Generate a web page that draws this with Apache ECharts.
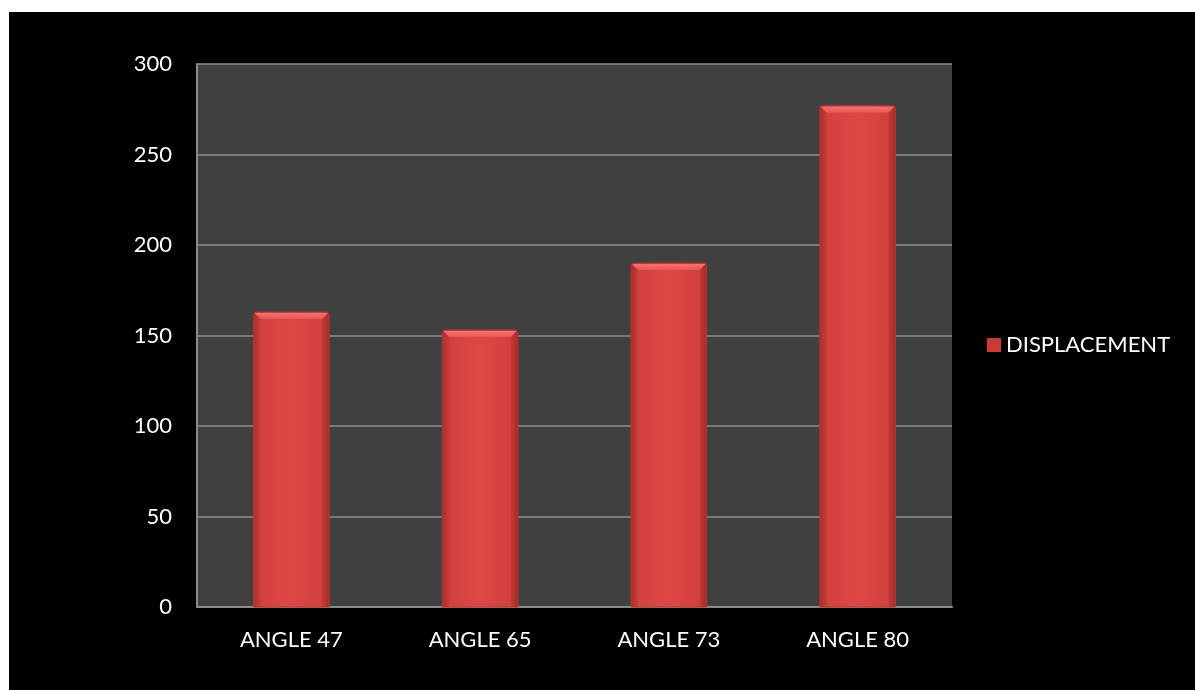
<!DOCTYPE html>
<html>
<head>
<meta charset="utf-8">
<script src="https://cdn.jsdelivr.net/npm/echarts@6/dist/echarts.min.js"></script>
<style>
  html, body { margin: 0; padding: 0; background: #ffffff; }
  #frame { position: absolute; left: 9px; top: 12px; right: 0; bottom: 0; background: #000000; }
  #chart { position: absolute; left: 0; top: 0; width: 1195px; height: 690px; }
</style>
</head>
<body>
<div id="frame"></div>
<div id="chart"></div>
<script>
// Displacement measured at each launch angle
const categories = ['ANGLE 47', 'ANGLE 65', 'ANGLE 73', 'ANGLE 80'];
const displacement = [163, 153, 190, 277];
const seriesName = 'DISPLACEMENT';

const FONT = 'Lato, "Open Sans", sans-serif';
const BAR_RATIO = 0.4;
const BEVEL = 7;

function sideGradient() {
  return new echarts.graphic.LinearGradient(0, 0, 1, 0, [
    { offset: 0.00, color: '#ad322e' },
    { offset: 0.10, color: '#d3423e' },
    { offset: 0.50, color: '#de4744' },
    { offset: 0.90, color: '#d2413d' },
    { offset: 1.00, color: '#a82d2a' }
  ]);
}

// Bevelled bar: body plus a lighter top facet, positioned through the axes
function renderBar(params, api) {
  const idx = api.value(0);
  const top = api.coord([idx, api.value(1)]);
  const base = api.coord([idx, 0]);
  const w = api.size([1, 0])[0] * BAR_RATIO;
  const x0 = top[0] - w / 2;
  const x1 = top[0] + w / 2;
  const y0 = top[1];
  const y1 = base[1];
  return {
    type: 'group',
    children: [
      {
        type: 'rect',
        shape: { x: x0, y: y0, width: w, height: y1 - y0, r: [3, 3, 0, 0] },
        style: { fill: sideGradient(), stroke: '#b8332f', lineWidth: 1 }
      },
      {
        type: 'polygon',
        shape: { points: [[x0 + 1, y0 + 1], [x1 - 1, y0 + 1], [x1 - BEVEL, y0 + BEVEL], [x0 + BEVEL, y0 + BEVEL]] },
        style: {
          fill: new echarts.graphic.LinearGradient(0, 0, 0, 1, [
            { offset: 0, color: '#f27470' },
            { offset: 1, color: '#e85652' }
          ])
        }
      },
      {
        type: 'polygon',
        shape: { points: [[x0 + 1, y0 + 1], [x0 + BEVEL, y0 + BEVEL], [x0 + BEVEL, y1], [x0 + 1, y1]] },
        style: { fill: 'rgba(120,20,18,0.10)' }
      },
      {
        type: 'polygon',
        shape: { points: [[x1 - 1, y0 + 1], [x1 - BEVEL, y0 + BEVEL], [x1 - BEVEL, y1], [x1 - 1, y1]] },
        style: { fill: 'rgba(120,20,18,0.14)' }
      }
    ]
  };
}

const chart = echarts.init(document.getElementById('chart'), null, { renderer: 'canvas' });
chart.setOption({
  backgroundColor: 'transparent',
  animation: false,
  grid: {
    left: 197, top: 64, right: 243, bottom: 83,
    show: true, backgroundColor: '#404040', borderWidth: 0
  },
  legend: {
    orient: 'vertical',
    left: 982, top: 'middle',
    itemWidth: 14, itemHeight: 14, itemGap: 8,
    icon: 'rect',
    textStyle: { color: '#ffffff', fontFamily: FONT, fontSize: 22 },
    data: [seriesName]
  },
  xAxis: {
    type: 'category',
    data: categories,
    axisLine: { lineStyle: { color: '#8a8a8a', width: 2 } },
    axisTick: { show: false },
    axisLabel: { color: '#ffffff', fontFamily: FONT, fontSize: 22, margin: 22 }
  },
  yAxis: {
    type: 'value',
    min: 0, max: 300, interval: 50,
    axisLine: { show: true, lineStyle: { color: '#8a8a8a', width: 2 } },
    axisTick: { show: false },
    splitLine: { lineStyle: { color: '#8c8c8c', width: 1.5 } },
    axisLabel: { color: '#ffffff', fontFamily: FONT, fontSize: 22, margin: 25 }
  },
  series: [{
    name: seriesName,
    type: 'custom',
    renderItem: renderBar,
    encode: { x: 0, y: 1 },
    itemStyle: { color: '#c93a36' },
    data: displacement.map((v, i) => [i, v])
  }]
});
</script>
</body>
</html>
